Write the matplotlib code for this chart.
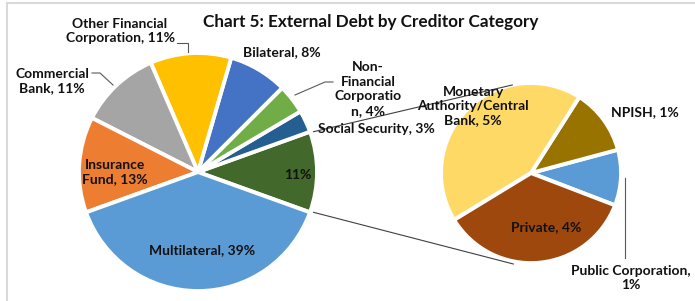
import numpy as np
import matplotlib.pyplot as plt
from matplotlib.patches import Rectangle

plt.rcParams['font.family'] = ['Lato', 'DejaVu Sans']

# main pie, counter-clockwise from the "other" slice on the right
main_names = ['', 'Social Security', 'Non-\nFinancial\nCorporatio\nn', 'Bilateral',
              'Other Financial\nCorporation', 'Commercial\nBank', 'Insurance\nFund', 'Multilateral']
main_values = [11, 3, 4, 8, 11, 11, 13, 39]
main_colors = ['#43682B', '#255E91', '#70AD47', '#4472C4', '#FFC000', '#A5A5A5', '#ED7D31', '#5B9BD5']

# secondary pie (breakdown of the 11%)
sub_names = ['Public Corporation', 'NPISH', 'Monetary\nAuthority/Central\nBank', 'Private']
sub_values = [1.1, 1.3, 4.7, 3.9]
sub_pct = [1, 1, 5, 4]
sub_colors = ['#5B9BD5', '#997300', '#FFD966', '#9E480E']

W, H = 695, 301
fig = plt.figure(figsize=(W / 100, H / 100), dpi=100)
ax = fig.add_axes([0, 0, 1, 1])


def py(y):
    return H - y


# chart border
ax.add_patch(Rectangle((7, -10), 700, py(3) + 10, fill=False, edgecolor='#D9D9D9', lw=1.5))

mc = (198, py(172))
mr = 119
mstart = -main_values[0] / sum(main_values) * 360 / 2
mexp = [0.03] * 7 + [0.065]
ax.pie(main_values, colors=main_colors, startangle=mstart, counterclock=True,
       explode=mexp, center=mc, radius=mr, frame=True,
       wedgeprops=dict(edgecolor='white', linewidth=2.8))

sc = (531, py(173))
sr = 90
sstart = -21
sexp = [0.03, 0.03, 0.03, 0.075]
ax.pie(sub_values, colors=sub_colors, startangle=sstart, counterclock=True,
       explode=sexp, center=sc, radius=sr, frame=True,
       wedgeprops=dict(edgecolor='white', linewidth=2.8))

ax.set_xlim(0, W)
ax.set_ylim(0, H)
ax.set_aspect('equal')
ax.axis('off')

# connector lines from the "other" slice to the secondary pie
half = np.deg2rad(-mstart)
ox = mc[0] + mexp[0] * mr + mr * np.cos(half)
top = (ox, mc[1] + mr * np.sin(half))
bot = (ox, mc[1] - mr * np.sin(half))
a1, a2 = np.deg2rad(102), np.deg2rad(259)
ax.plot([top[0], sc[0] + sr * np.cos(a1)], [top[1], sc[1] + sr * np.sin(a1)], color='#404040', lw=0.8)
ax.plot([bot[0], sc[0] + sr * 1.03 * np.cos(a2)], [bot[1], sc[1] + sr * 1.03 * np.sin(a2)],
        color='#404040', lw=0.8)

fs = 10
kw = dict(fontsize=fs, fontweight='bold', ha='center', va='center', color='#111111', linespacing=1.25)

main_pos = [(298, 175), (376, 129), (368, 89), (282, 52), (120, 31), (52, 81), (115, 172), (202, 250)]
for name, v, (x, y) in zip(main_names, main_values, main_pos):
    txt = f'{v}%' if name == '' else f'{name}, {v}%'
    ax.text(x, py(y), txt, **kw)

sub_pos = [(631, 278), (645, 112), (473, 106), (546, 227)]
for i, (name, v, (x, y)) in enumerate(zip(sub_names, sub_pct, sub_pos)):
    sep = ',\n' if i == 0 else ', '
    ax.text(x, py(y), f'{name}{sep}{v}%', **kw)

# leader lines
lc = dict(color='#595959', lw=0.8)
ax.plot([177, 188, 188], [py(43), py(43), py(52)], **lc)
ax.plot([92, 100, 113], [py(73), py(73), py(85)], **lc)
ax.plot([295, 325, 333], [py(95), py(82), py(82)], **lc)
ax.plot([625, 625], [py(178), py(258)], **lc)

ax.text(371, py(22), 'Chart 5: External Debt by Creditor Category', fontsize=12.3,
        fontweight='bold', ha='center', va='center', color='#111111')

fig.savefig('out.png', dpi=100)
